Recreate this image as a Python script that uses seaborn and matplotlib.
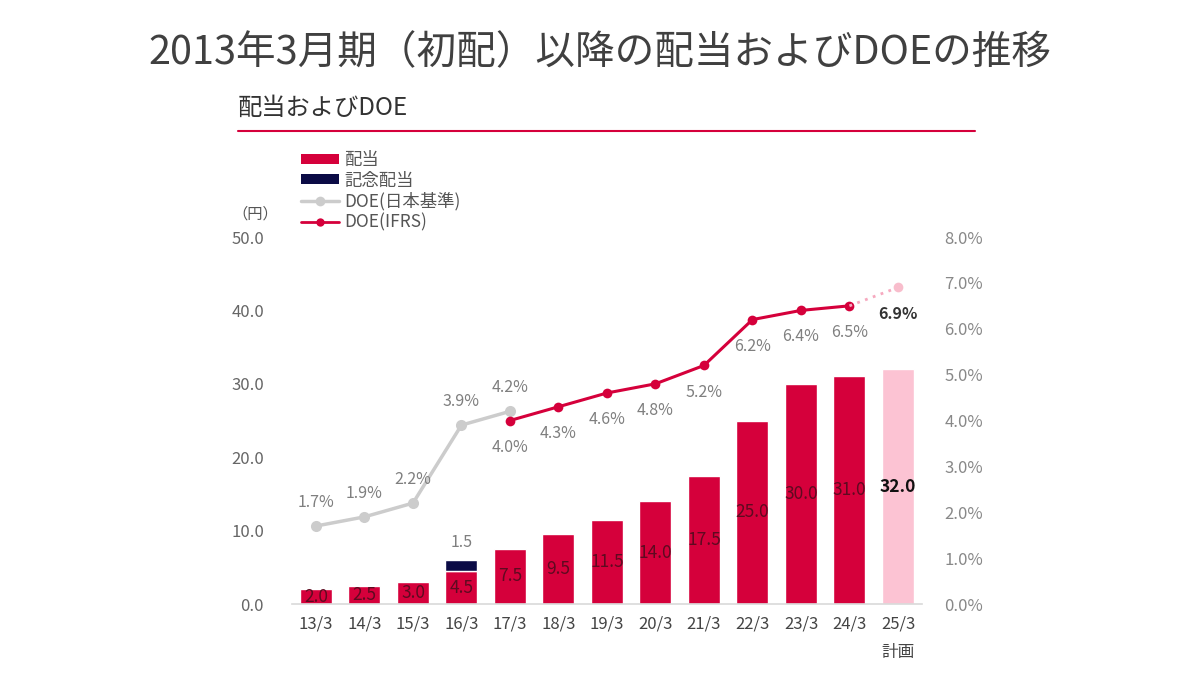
import pandas as pd
import numpy as np
import matplotlib
matplotlib.use("Agg")
import matplotlib.pyplot as plt
from matplotlib.lines import Line2D
from matplotlib.patches import Patch
import seaborn as sns

# Data
periods = ["13/3", "14/3", "15/3", "16/3", "17/3", "18/3", "19/3",
           "20/3", "21/3", "22/3", "23/3", "24/3", "25/3"]
dividend = [2.0, 2.5, 3.0, 4.5, 7.5, 9.5, 11.5, 14.0, 17.5, 25.0, 30.0, 31.0, 32.0]
commemorative_period = "16/3"
commemorative = 1.5
doe_jgaap_periods = ["13/3", "14/3", "15/3", "16/3", "17/3"]
doe_jgaap = [1.7, 1.9, 2.2, 3.9, 4.2]
doe_ifrs_periods = ["17/3", "18/3", "19/3", "20/3", "21/3", "22/3", "23/3", "24/3"]
doe_ifrs = [4.0, 4.3, 4.6, 4.8, 5.2, 6.2, 6.4, 6.5]
doe_plan_period = "25/3"
doe_plan = 6.9
left_ticks = [0, 10, 20, 30, 40, 50]
right_ticks = [0, 1, 2, 3, 4, 5, 6, 7, 8]

RED = "#d5003b"
NAVY = "#0b0b45"
PINK = "#fcc3d3"
LGRAY = "#cccccc"
TXT = "#7f7f7f"

sns.set_theme(style="white")
plt.rcParams["font.family"] = ["Noto Sans CJK JP", "DejaVu Sans"]

fig = plt.figure(figsize=(12, 6.86), dpi=100)
ax = fig.add_axes([0.2431, 0.1195, 0.5254, 0.535])

df = pd.DataFrame({"period": periods, "dividend": dividend})
colors = [RED] * (len(periods) - 1) + [PINK]
sns.barplot(data=df, x="period", y="dividend", hue="period", palette=colors,
            legend=False, width=0.66, saturation=1, ax=ax)

idx = {p: i for i, p in enumerate(periods)}
ci = idx[commemorative_period]
ax.bar(ci, commemorative, bottom=dividend[ci], width=0.66, color=NAVY)
ax.text(ci, dividend[ci] + commemorative + 1.2, f"{commemorative:.1f}",
        ha="center", va="bottom", fontsize=11.5, color=TXT)

for i, v in enumerate(dividend):
    last = i == len(dividend) - 1
    ax.text(i, v / 2, f"{v:.1f}", ha="center", va="center",
            fontsize=12.5, color="#111111" if last else "#5e0a20",
            fontweight="bold" if last else "normal")

ax.set_xlim(-0.5, len(periods) - 0.5)
ax.set_ylim(0, 50)
ax.set_yticks(left_ticks)
ax.set_yticklabels([f"{t:.1f}" for t in left_ticks])
ax.set_xlabel("")
ax.set_ylabel("")
xlabels = periods[:-1] + [periods[-1] + "\n計画"]
ax.set_xticks(range(len(periods)))
ax.set_xticklabels(xlabels, linespacing=1.9, va="top")
ax.tick_params(axis="x", colors="#444444", labelsize=12, length=0, pad=8)
ax.tick_params(axis="y", colors="#666666", labelsize=12, length=0, pad=20)
for s in ["top", "right", "left"]:
    ax.spines[s].set_visible(False)
ax.spines["bottom"].set_color("#d9d9d9")
ax.spines["bottom"].set_linewidth(1.2)

ax2 = ax.twinx()
ax2.set_ylim(0, 8)
ax2.set_yticks(right_ticks)
ax2.set_yticklabels([f"{t:.1f}%" for t in right_ticks])
ax2.tick_params(axis="y", colors="#888888", labelsize=12, length=0, pad=16)
for s in ax2.spines.values():
    s.set_visible(False)

jx = [idx[p] for p in doe_jgaap_periods]
fx = [idx[p] for p in doe_ifrs_periods]
sns.lineplot(x=jx, y=doe_jgaap, color=LGRAY, lw=2.5, marker="o", markersize=8,
             markeredgewidth=0, ax=ax2)
sns.lineplot(x=fx, y=doe_ifrs, color=RED, lw=2.2, marker="o", markersize=7,
             markeredgewidth=0, ax=ax2)
px = idx[doe_plan_period]
ax2.plot([fx[-1], px], [doe_ifrs[-1], doe_plan], color="#f6a9bf", lw=2, ls=(0, (1, 2)))
ax2.plot([px], [doe_plan], "o", color="#f8bdcc", markersize=7, markeredgewidth=0)

for x, v in zip(jx, doe_jgaap):
    ax2.annotate(f"{v:.1f}%", (x, v), xytext=(0, 11), textcoords="offset points",
                 ha="center", va="bottom", fontsize=11.5, color=TXT)
for x, v in zip(fx, doe_ifrs):
    ax2.annotate(f"{v:.1f}%", (x, v), xytext=(0, -13), textcoords="offset points",
                 ha="center", va="top", fontsize=11.5, color=TXT)
ax2.annotate(f"{doe_plan:.1f}%", (px, doe_plan), xytext=(0, -13), textcoords="offset points",
             ha="center", va="top", fontsize=11.5, color="#333333", fontweight="bold")

# titles and header rule
fig.text(0.5, 0.922, "2013年3月期（初配）以降の配当およびDOEの推移", ha="center",
         va="center", fontsize=28.5, color="#404040")
fig.text(0.198, 0.843, "配当およびDOE", ha="left", va="center", fontsize=17.5, color="#333333")
fig.add_artist(Line2D([0.198, 0.8125], [0.809, 0.809], color=RED, lw=1.5))
fig.text(0.213, 0.688, "（円）", ha="center", va="center", fontsize=11, color="#555555")

handles = [
    Patch(facecolor=RED, edgecolor="none"),
    Patch(facecolor=NAVY, edgecolor="none"),
    Line2D([], [], color=LGRAY, lw=2.5, marker="o", markersize=7, markeredgewidth=0),
    Line2D([], [], color=RED, lw=2, marker="o", markersize=6, markeredgewidth=0),
]
leg = fig.legend(handles, ["配当", "記念配当", "DOE(日本基準)", "DOE(IFRS)"],
                 loc="upper left", bbox_to_anchor=(0.245, 0.79), frameon=False,
                 fontsize=12.5, handlelength=2.2, handleheight=0.5, handletextpad=0.3,
                 labelspacing=0.15, borderaxespad=0)
for t in leg.get_texts():
    t.set_color("#555555")

fig.savefig("out.png", dpi=100)
